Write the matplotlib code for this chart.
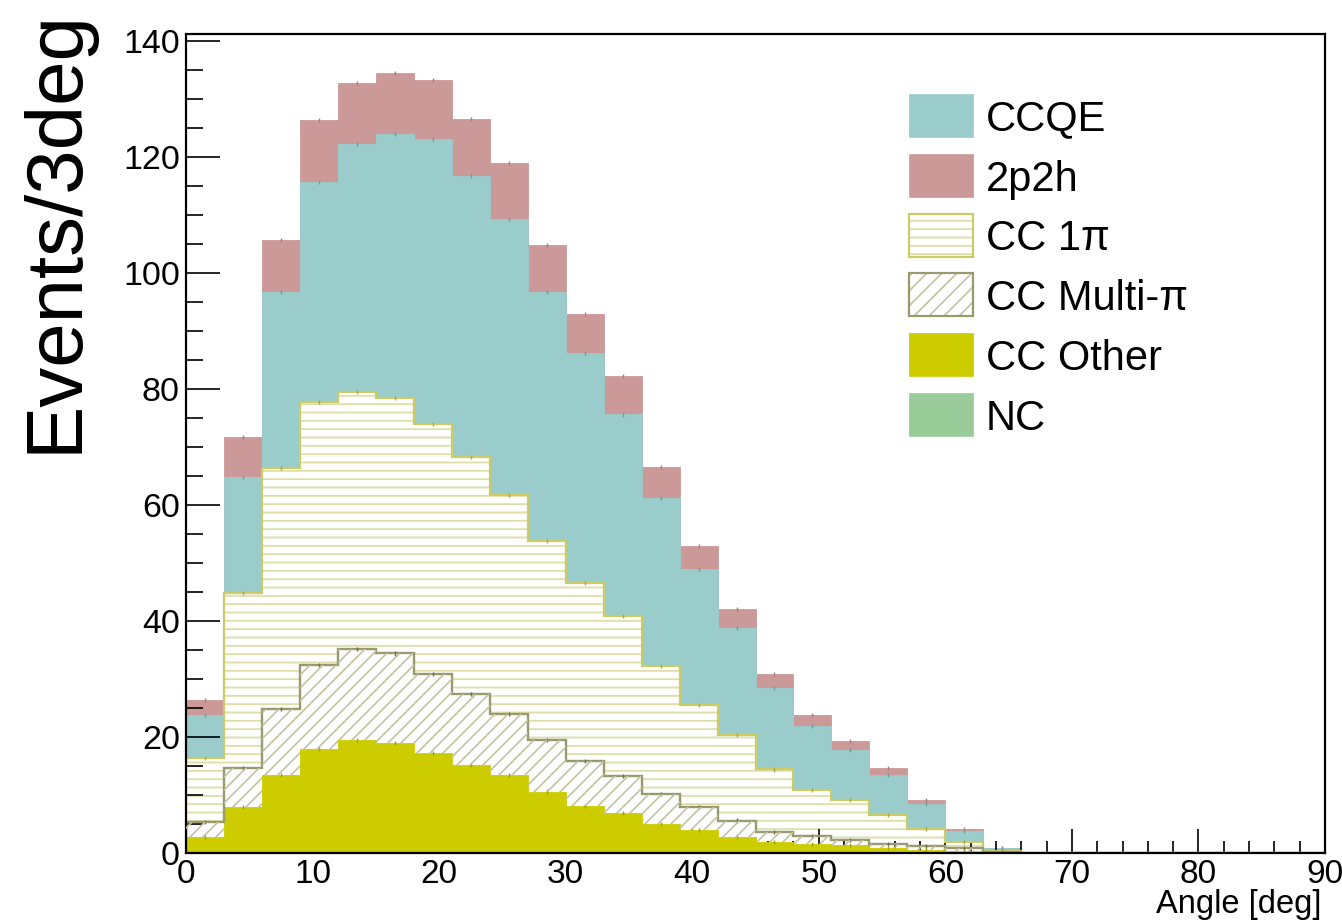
import numpy as np
import matplotlib
matplotlib.use("Agg")
import matplotlib.pyplot as plt
from matplotlib.patches import Rectangle
from matplotlib.collections import LineCollection
from matplotlib.transforms import IdentityTransform

# ---------------- data ----------------
bin_edges = np.arange(0, 93, 3)  # 0..90 deg, 3 deg bins
cc_other = [2.7, 8.0, 13.4, 17.9, 19.5, 18.9, 17.2, 15.1, 13.5, 10.6, 8.1, 6.9, 5.0, 4.0, 2.7,
            1.9, 1.5, 1.3, 0.9, 0.6, 0.4, 0.1, 0, 0, 0, 0, 0, 0, 0, 0]
cc_multipi = [2.6, 6.7, 11.5, 14.5, 15.6, 15.5, 13.7, 12.3, 10.4, 8.9, 7.7, 6.4, 5.1, 3.9, 2.9,
              1.8, 1.5, 0.9, 0.6, 0.6, 0.5, 0.1, 0, 0, 0, 0, 0, 0, 0, 0]
cc_1pi = [11.1, 30.2, 41.5, 45.4, 44.3, 44.0, 43.1, 40.8, 37.8, 34.3, 30.8, 27.6, 22.1, 17.6, 14.7,
          10.7, 7.9, 7.0, 5.1, 3.0, 1.0, 0.2, 0, 0, 0, 0, 0, 0, 0, 0]
nc = [0, 0, 0, 0, 0, 0, 0, 0, 0, 0, 0, 0, 0, 0, 0,
      0, 0, 0, 0, 0, 0, 0, 0, 0, 0, 0, 0, 0, 0, 0]
ccqe = [7.4, 19.9, 30.4, 37.9, 42.8, 45.6, 49.1, 48.6, 47.6, 43.0, 39.6, 34.7, 29.0, 23.4, 18.5,
        14.1, 11.0, 8.6, 6.8, 4.3, 1.9, 0.4, 0, 0, 0, 0, 0, 0, 0, 0]
twop2h = [2.6, 6.9, 8.9, 10.7, 10.5, 10.5, 10.2, 9.8, 9.6, 8.1, 6.8, 6.6, 5.4, 4.1, 3.3,
          2.4, 1.9, 1.5, 1.2, 0.7, 0.3, 0.1, 0, 0, 0, 0, 0, 0, 0, 0]

legend_labels = ["CCQE", "2p2h", "CC 1π", "CC Multi-π", "CC Other", "NC"]
x_label = "Angle [deg]"
y_label = "Events/3deg"

# ---------------- style ----------------
C_CCQE = "#9ACCCC"
C_2P2H = "#CC9999"
C_OTHER = "#CCCC00"
C_NC = "#99CC99"
C_1PI_HATCH = "#DEDEA6"
C_1PI_LINE = "#CCCC66"
C_MPI_HATCH = "#C2C2A2"
C_MPI_LINE = "#999970"

plt.rcParams["font.family"] = ["Liberation Sans", "DejaVu Sans"]
plt.rcParams["hatch.linewidth"] = 1.3

W, H = 1342, 923
fig = plt.figure(figsize=(W / 100, H / 100), dpi=100)
ax = fig.add_axes([186 / W, 1 - 853 / H, (1325 - 186) / W, (853 - 34) / H])


def diag_hatch(clip_patch, color, spacing=13.0, lw=1.2, zorder=2.5):
    """45-degree hatch lines in display pixels, clipped to a patch."""
    segs = []
    for c in np.arange(-H, W + H, spacing):
        segs.append([(c, 0), (c + H, H)])
    lc = LineCollection(segs, colors=color, linewidths=lw, transform=IdentityTransform(),
                        zorder=zorder)
    fig.add_artist(lc)
    lc.set_clip_path(clip_patch)
    return lc


edges = bin_edges
centers = 0.5 * (edges[:-1] + edges[1:])

# stacked cumulative levels (bottom -> top)
layers = [cc_other, cc_multipi, cc_1pi, nc, ccqe, twop2h]
cum = []
running = np.zeros(len(cc_other))
for lay in layers:
    base = running.copy()
    running = running + np.asarray(lay, dtype=float)
    cum.append((base, running.copy()))

(b_oth, t_oth), (b_mpi, t_mpi), (b_1pi, t_1pi), (b_nc, t_nc), (b_qe, t_qe), (b_2p, t_2p) = cum

# fills
ax.stairs(t_2p, edges, baseline=b_2p, fill=True, facecolor=C_2P2H, edgecolor=C_2P2H, linewidth=0.6, zorder=2)
ax.stairs(t_qe, edges, baseline=b_qe, fill=True, facecolor=C_CCQE, edgecolor=C_CCQE, linewidth=0.6, zorder=2)
ax.stairs(t_nc, edges, baseline=b_nc, fill=True, facecolor=C_NC, edgecolor=C_NC, linewidth=0, zorder=2)
ax.stairs(t_1pi, edges, baseline=b_1pi, fill=True, facecolor="white", edgecolor=C_1PI_HATCH,
          hatch="--", linewidth=0, zorder=2)
mpi_patch = ax.stairs(t_mpi, edges, baseline=b_mpi, fill=True, facecolor="white",
                      edgecolor="white", linewidth=0, zorder=2)
diag_hatch(mpi_patch, C_MPI_HATCH)
ax.stairs(t_oth, edges, baseline=b_oth, fill=True, facecolor=C_OTHER, edgecolor=C_OTHER, linewidth=0.6, zorder=2.6)

# outlines of hatched histograms
ax.stairs(t_1pi, edges, baseline=0, fill=False, color=C_1PI_LINE, linewidth=1.6, zorder=3)
ax.stairs(t_mpi, edges, baseline=0, fill=False, color=C_MPI_LINE, linewidth=1.7, zorder=3)

# tiny statistical error markers at each layer top
err = 0.35
err_specs = [(t_2p, twop2h, "#B07878"), (t_qe, ccqe, "#6A9E9E"), (t_1pi, cc_1pi, "#A8A840"),
             (t_mpi, cc_multipi, "#6E6E50"), (t_oth, cc_other, "#A0A000")]
for top, comp, col in err_specs:
    m = np.asarray(comp) > 0
    ax.errorbar(centers[m], top[m], yerr=err, fmt="none", ecolor=col, elinewidth=1.0, zorder=4)

ax.set_xlim(0, 90)
ax.set_ylim(0, 141.2)
ax.set_xticks(np.arange(0, 91, 10))
ax.set_xticks(np.arange(0, 91, 2), minor=True)
ax.set_yticks(np.arange(0, 141, 20))
ax.set_yticks(np.arange(0, 141, 5), minor=True)

for s in ax.spines.values():
    s.set_linewidth(1.6)
    s.set_zorder(6)

ax.tick_params(axis="x", which="major", direction="in", length=17, width=1.2, labelsize=24, pad=4)
ax.tick_params(axis="x", which="minor", direction="in", length=8.5, width=1.2)
ax.tick_params(axis="y", which="major", direction="in", length=24.5, width=1.2, labelsize=24.5, pad=4.5)
ax.tick_params(axis="y", which="minor", direction="in", length=12.2, width=1.2)
ax.tick_params(top=False, right=False, which="both")
for t in ax.get_xticklines() + ax.get_yticklines() + ax.xaxis.get_minorticklines() + ax.yaxis.get_minorticklines():
    t.set_zorder(7)
ax.set_axisbelow(False)

# axis titles
fig.text(1322 / W, 1 - 913 / H, x_label, ha="right", va="baseline", fontsize=23.5)
fig.text(77 / W, 1 - 231.5 / H, y_label, rotation=90, rotation_mode="anchor",
         ha="center", va="baseline", fontsize=57.5)

# legend (drawn manually, ROOT-style)
box_x0, box_x1 = 909, 973
row_centers = [115, 175, 235, 294, 354, 414]
box_h = 43
styles = [
    dict(facecolor=C_CCQE, edgecolor=C_CCQE, lw=0.5),
    dict(facecolor=C_2P2H, edgecolor=C_2P2H, lw=0.5),
    dict(facecolor="white", edgecolor=C_1PI_HATCH, hatch="--", lw=0, outline=C_1PI_LINE),
    dict(facecolor="white", edgecolor="white", lw=0, diag=C_MPI_HATCH, outline=C_MPI_LINE),
    dict(facecolor=C_OTHER, edgecolor=C_OTHER, lw=0.5),
    dict(facecolor=C_NC, edgecolor=C_NC, lw=0.5),
]
for lab, yc, st in zip(legend_labels, row_centers, styles):
    x0 = box_x0 / W
    y0 = 1 - (yc + box_h / 2) / H
    w = (box_x1 - box_x0) / W
    h = box_h / H
    r = Rectangle((x0, y0), w, h, transform=fig.transFigure, facecolor=st["facecolor"],
                  edgecolor=st["edgecolor"], hatch=st.get("hatch"), linewidth=st["lw"])
    fig.add_artist(r)
    if "diag" in st:
        diag_hatch(r, st["diag"], spacing=15.0)
    if "outline" in st:
        fig.add_artist(Rectangle((x0, y0), w, h, transform=fig.transFigure, facecolor="none",
                                 edgecolor=st["outline"], linewidth=1.6, zorder=3))
    fig.text(986 / W, 1 - yc / H, lab, ha="left", va="center_baseline", fontsize=30)

fig.savefig("out.png", dpi=100)
